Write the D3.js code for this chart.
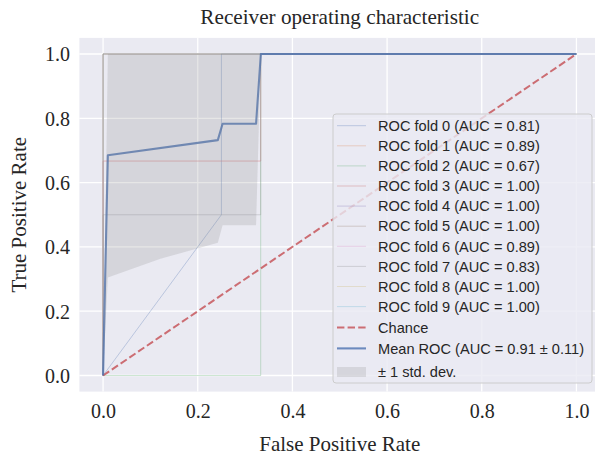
<!DOCTYPE html>
<html>
<head>
<meta charset="utf-8">
<script src="https://cdn.jsdelivr.net/npm/d3@7"></script>
<style>
  html, body { margin: 0; padding: 0; background: #ffffff; }
  svg { display: block; }
</style>
</head>
<body>
<svg id="chart" width="595" height="455"></svg>
<script>
// ROC curves of a 10-fold cross-validation
const foldAuc = [0.81, 0.89, 0.67, 1.00, 1.00, 1.00, 0.89, 0.83, 1.00, 1.00];
const foldFpr = [
  [0, 0.25, 0.25, 1],
  [0, 0, 0.333, 0.333, 1],
  [0, 0.333, 0.333, 1],
  [0, 0, 1],
  [0, 0, 1],
  [0, 0, 1],
  [0, 0, 0.333, 0.333, 1],
  [0, 0, 0.333, 0.333, 1],
  [0, 0, 1],
  [0, 0, 1]
];
const foldTpr = [
  [0, 0.5, 1, 1],
  [0, 0.667, 0.667, 1, 1],
  [0, 0, 1, 1],
  [0, 1, 1],
  [0, 1, 1],
  [0, 1, 1],
  [0, 0.667, 0.667, 1, 1],
  [0, 0.5, 0.5, 1, 1],
  [0, 1, 1],
  [0, 1, 1]
];
const foldColors = ["#4C72B0", "#DD8452", "#55A868", "#C44E52", "#8172B3",
                    "#937860", "#DA8BC3", "#8C8C8C", "#CCB974", "#64B5CD"];

// mean ROC curve
const meanFpr = [0, 0.0101, 0.2424, 0.2525, 0.3232, 0.3333, 1.0];
const meanTpr = [0, 0.685, 0.732, 0.783, 0.783, 1.0, 1.0];
const meanAuc = 0.91;
const stdAuc = 0.11;

// ± 1 std. dev. band
const bandFpr   = [0, 0.0101, 0.1212, 0.2424, 0.2525, 0.3232, 0.3333, 1.0];
const bandLower = [0, 0.305, 0.363, 0.413, 0.467, 0.467, 1.0, 1.0];
const bandUpper = [0, 1.0, 1.0, 1.0, 1.0, 1.0, 1.0, 1.0];

// chance diagonal
const chanceX = [0, 1];
const chanceY = [0, 1];

const tickValues = [0.0, 0.2, 0.4, 0.6, 0.8, 1.0];

const titleText = "Receiver operating characteristic";
const xLabel = "False Positive Rate";
const yLabel = "True Positive Rate";

const svg = d3.select("#chart");

const x = d3.scaleLinear().domain([-0.05, 1.05]).range([79.4, 600.1]);
const y = d3.scaleLinear().domain([-0.05, 1.05]).range([391.6, 37.9]);

const serif = "'Liberation Serif', 'Times New Roman', serif";
const sans = "'Liberation Sans', Arial, sans-serif";
const ink = "#262626";

// plot background
const [x0, x1] = x.range();
const [yb, yt] = y.range();
svg.append("defs").append("clipPath").attr("id", "clip")
  .append("rect").attr("x", x0).attr("y", yt).attr("width", x1 - x0).attr("height", yb - yt);

svg.append("rect")
  .attr("x", x0).attr("y", yt).attr("width", x1 - x0).attr("height", yb - yt)
  .attr("fill", "#EAEAF2");

// grid
const grid = svg.append("g").attr("stroke", "#ffffff").attr("stroke-width", 1.3);
grid.selectAll("line.v").data(tickValues).join("line")
  .attr("x1", d => x(d)).attr("x2", d => x(d)).attr("y1", yt).attr("y2", yb);
grid.selectAll("line.h").data(tickValues).join("line")
  .attr("y1", d => y(d)).attr("y2", d => y(d)).attr("x1", x0).attr("x2", x1);

const plot = svg.append("g").attr("clip-path", "url(#clip)");
const line = d3.line().x(d => x(d[0])).y(d => y(d[1]));

// fold curves
foldFpr.forEach((fpr, i) => {
  plot.append("path")
    .datum(fpr.map((f, j) => [f, foldTpr[i][j]]))
    .attr("d", line)
    .attr("fill", "none")
    .attr("stroke", foldColors[i])
    .attr("stroke-opacity", 0.3)
    .attr("stroke-width", 1);
});

// chance line
plot.append("path")
  .datum(chanceX.map((c, j) => [c, chanceY[j]]))
  .attr("d", line)
  .attr("fill", "none")
  .attr("stroke", "#C44E52")
  .attr("stroke-opacity", 0.8)
  .attr("stroke-width", 2)
  .attr("stroke-dasharray", "7.4,3.2");

// mean curve
plot.append("path")
  .datum(meanFpr.map((f, j) => [f, meanTpr[j]]))
  .attr("d", line)
  .attr("fill", "none")
  .attr("stroke", "#4C72B0")
  .attr("stroke-opacity", 0.8)
  .attr("stroke-width", 2.1)
  .attr("stroke-linejoin", "round");

// std band
const area = d3.area()
  .x(d => x(d[0])).y0(d => y(d[1])).y1(d => y(d[2]));
plot.append("path")
  .datum(bandFpr.map((f, j) => [f, bandLower[j], bandUpper[j]]))
  .attr("d", area)
  .attr("fill", "#808080")
  .attr("fill-opacity", 0.2);

// axes
const xAxis = d3.axisBottom(x).tickValues(tickValues).tickFormat(d3.format(".1f")).tickSize(0).tickPadding(0);
const gx = svg.append("g").attr("transform", `translate(0,${yb})`).call(xAxis);
gx.select(".domain").remove();
gx.selectAll("text")
  .attr("y", 26.5).attr("dy", 0)
  .style("font-family", serif).style("font-size", "20px").attr("fill", ink);

const yAxis = d3.axisLeft(y).tickValues(tickValues).tickFormat(d3.format(".1f")).tickSize(0).tickPadding(0);
const gy = svg.append("g").attr("transform", `translate(70,0)`).call(yAxis);
gy.select(".domain").remove();
gy.selectAll("text")
  .attr("x", 0).attr("dy", "0.34em")
  .style("font-family", serif).style("font-size", "20px").attr("fill", ink);

// title & axis labels
const cx = (x(0) + x(1)) / 2;
svg.append("text").attr("x", cx).attr("y", 24).attr("text-anchor", "middle")
  .style("font-family", serif).style("font-size", "21.2px").attr("fill", ink)
  .text(titleText);
svg.append("text").attr("x", cx).attr("y", 450.5).attr("text-anchor", "middle")
  .style("font-family", serif).style("font-size", "21px").attr("fill", ink)
  .text(xLabel);
svg.append("text")
  .attr("transform", `translate(25.5,${(yt + yb) / 2}) rotate(-90)`)
  .attr("text-anchor", "middle")
  .style("font-family", serif).style("font-size", "21px").attr("fill", ink)
  .text(yLabel);

// legend
const legend = svg.append("g");
legend.append("rect")
  .attr("x", 333).attr("y", 114).attr("width", 259).attr("height", 269)
  .attr("rx", 3)
  .attr("fill", "#EAEAF2").attr("fill-opacity", 0.8)
  .attr("stroke", "#CCCCCC").attr("stroke-width", 1);

const entries = [];
foldAuc.forEach((a, i) => entries.push({
  label: `ROC fold ${i} (AUC = ${a.toFixed(2)})`, kind: "fold", color: foldColors[i]
}));
entries.push({ label: "Chance", kind: "chance" });
entries.push({ label: `Mean ROC (AUC = ${meanAuc.toFixed(2)} \u00B1 ${stdAuc.toFixed(2)})`, kind: "mean" });
entries.push({ label: "\u00B1 1 std. dev.", kind: "band" });

const rowY = [125.7, 145.8, 165.9, 186.0, 206.1, 226.2, 246.3, 266.4, 286.5, 306.6, 327.4, 348.4, 372.0];
const hx0 = 337, hx1 = 366, tx = 378;

entries.forEach((e, i) => {
  const yy = rowY[i];
  if (e.kind === "fold") {
    legend.append("line").attr("x1", hx0).attr("x2", hx1).attr("y1", yy).attr("y2", yy)
      .attr("stroke", e.color).attr("stroke-opacity", 0.3).attr("stroke-width", 1);
  } else if (e.kind === "chance") {
    legend.append("line").attr("x1", hx0).attr("x2", hx1).attr("y1", yy).attr("y2", yy)
      .attr("stroke", "#C44E52").attr("stroke-opacity", 0.8).attr("stroke-width", 2)
      .attr("stroke-dasharray", "7.4,3.2");
  } else if (e.kind === "mean") {
    legend.append("line").attr("x1", hx0).attr("x2", hx1).attr("y1", yy).attr("y2", yy)
      .attr("stroke", "#4C72B0").attr("stroke-opacity", 0.8).attr("stroke-width", 2.1);
  } else {
    legend.append("rect").attr("x", hx0).attr("y", yy - 5).attr("width", hx1 - hx0).attr("height", 10)
      .attr("fill", "#808080").attr("fill-opacity", 0.2);
  }
  legend.append("text").attr("x", tx).attr("y", yy).attr("dy", "0.36em")
    .style("font-family", sans).style("font-size", "14.6px").attr("fill", ink)
    .text(e.label);
});
</script>
</body>
</html>
